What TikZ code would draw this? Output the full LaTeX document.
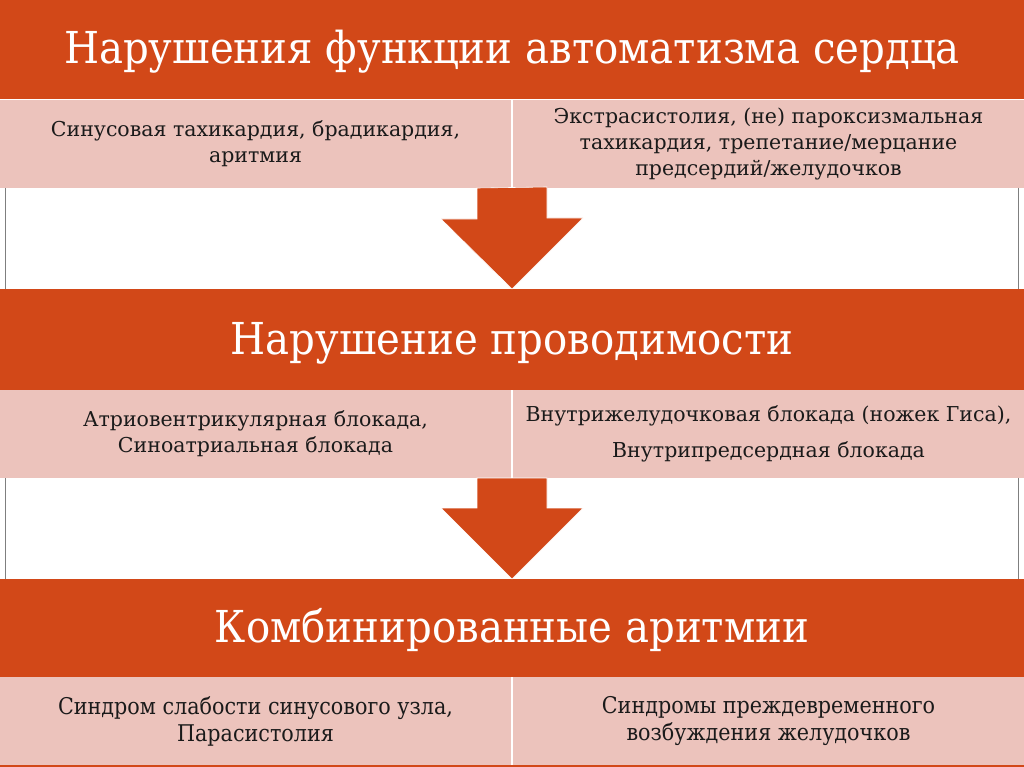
\documentclass[tikz,border=0pt]{standalone}
\usepackage{fontspec}
\setmainfont{DejaVu Serif}
\newfontfamily\headserif[FakeStretch=0.915]{DejaVu Serif}
\newfontfamily\narrowserif[FakeStretch=0.9]{DejaVu Serif}
\usetikzlibrary{calc}
\definecolor{Rust}{HTML}{D24818}
\definecolor{Blush}{HTML}{ECC3BC}
\definecolor{Ink}{HTML}{1A1A1A}
\definecolor{Rule}{HTML}{7F7F7F}

\begin{document}
\begin{tikzpicture}[
  x=1pt,y=-1pt,
  band/.style={rectangle,fill=Rust,text=white,inner sep=0pt,outer sep=0pt,minimum width=1024,minimum height=100,align=center,text height=32pt,text depth=3pt,font=\headserif\fontsize{44}{52}\selectfont},
  cell/.style={rectangle,fill=Blush,text=Ink,inner sep=0pt,outer sep=0pt,minimum width=511,minimum height=88,align=center,font=\fontsize{20.5}{26}\selectfont},
  narrow/.style={cell,font=\narrowserif\fontsize{23}{27}\selectfont},
  arrow/.style={fill=Rust,draw=white,line width=0.6pt},
  edge/.style={draw=Rule,line width=1pt}
]
\useasboundingbox (0,0) rectangle (1024,767);
\node[band] (h1) at (512,49) {Нарушения функции автоматизма сердца};
\node[cell] (a1) at (255.5,144) {Синусовая тахикардия, брадикардия,\\аритмия};
\node[cell] (b1) at (768.5,144) {Экстрасистолия, (не) пароксизмальная\\тахикардия, трепетание/мерцание\\предсердий/желудочков};
\node[band,minimum height=101] (h2) at (512,339.5) {Нарушение проводимости};
\node[band,minimum height=98] (h3) at (512,628) {Комбинированные аритмии};
\node[cell] (a2) at (255.5,434) {Атриовентрикулярная блокада,\\Синоатриальная блокада};
\node[cell] (b2) at (768.5,434) {Внутрижелудочковая блокада (ножек Гиса),\\[10pt]Внутрипредсердная блокада};
\node[narrow] (a3) at (255.5,721) {Синдром слабости синусового узла,\\Парасистолия};
\node[narrow] (b3) at (768.5,721) {Синдромы преждевременного\\возбуждения желудочков};
\fill[Rust] (0,765) rectangle (1024,767);
% table edges in the gaps
\draw[edge] ($(a1.south west)+(5,0)$) -- ($(h2.north west)+(5,0)$);
\draw[edge] ($(b1.south east)+(-6,0)$) -- ($(h2.north east)+(-6,0)$);
\draw[edge] ($(a2.south west)+(5,0)$) -- ($(h3.north west)+(5,0)$);
\draw[edge] ($(b2.south east)+(-6,0)$) -- ($(h3.north east)+(-6,0)$);
% block arrows
\path[arrow] ($(h2.north |- a1.south)+(-35,0)$) -- ++(0,31) -- ++(-36,0) -- (h2.north) -- ++(71,-71) -- ++(-36,0) -- ++(0,-31) -- cycle;
\path[arrow] ($(h3.north |- a2.south)+(-35,0)$) -- ++(0,30) -- ++(-36,0) -- (h3.north) -- ++(71,-71) -- ++(-36,0) -- ++(0,-30) -- cycle;
\end{tikzpicture}
\end{document}
